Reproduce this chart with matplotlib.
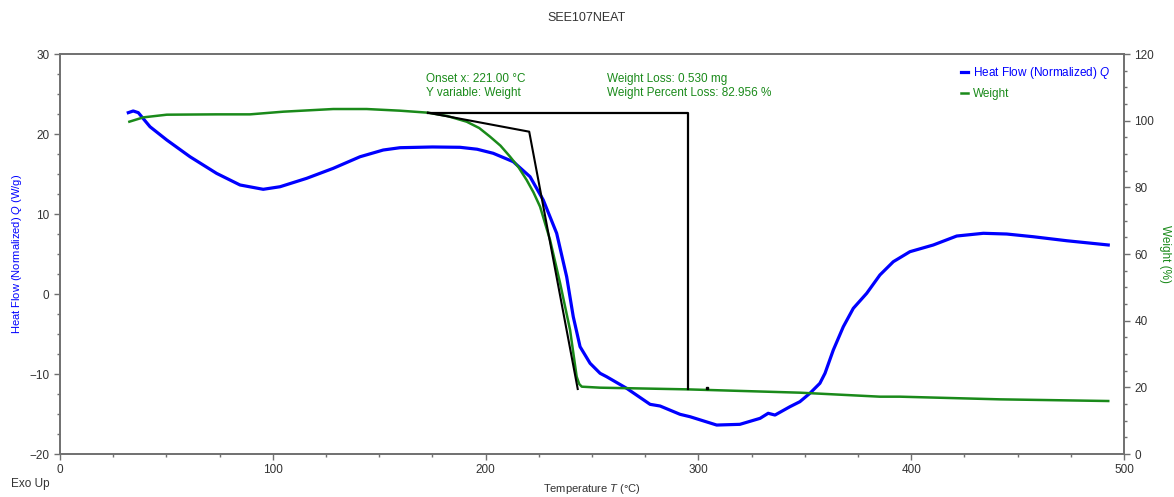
import matplotlib
matplotlib.use("Agg")
from matplotlib import pyplot as plt
from matplotlib.ticker import MultipleLocator

plt.rcParams['font.family'] = ['Liberation Sans', 'DejaVu Sans']
plt.rcParams['mathtext.fontset'] = 'custom'
plt.rcParams['mathtext.it'] = 'Liberation Sans:italic'

# heat flow (normalized), W/g
hf_temp = [32.1, 34.4, 36.8, 42.3, 50.2, 61.1, 73.6, 84.6, 95.5, 103.4, 115.9, 128.4,
           141.0, 151.9, 159.8, 175.0, 188.0, 196.0, 203.6, 213.0, 220.9, 227.1, 233.4,
           238.1, 241.2, 244.4, 249.1, 253.8, 256.9, 266.3, 277.3, 282.0, 291.4, 296.1,
           308.6, 319.5, 329.0, 332.8, 336.0, 343.0, 347.7, 352.4, 357.1, 359.5, 363.4,
           368.1, 372.8, 379.1, 385.3, 391.6, 399.4, 410.4, 421.4, 433.9, 444.9, 457.4,
           473.1, 492.6]
hf_value = [22.67, 22.88, 22.67, 20.91, 19.25, 17.16, 15.08, 13.63, 13.09, 13.41, 14.46,
            15.71, 17.16, 18.0, 18.29, 18.38, 18.34, 18.1, 17.59, 16.54, 14.66, 11.75,
            7.59, 2.16, -2.84, -6.59, -8.66, -9.91, -10.34, -11.79, -13.79, -14.0, -15.04,
            -15.34, -16.38, -16.29, -15.54, -14.91, -15.13, -14.09, -13.46, -12.41,
            -11.16, -9.91, -7.0, -4.09, -1.79, 0.09, 2.38, 4.04, 5.29, 6.13, 7.25, 7.59,
            7.5, 7.16, 6.66, 6.13]

# weight, %
w_temp = [32.6, 39.2, 50.2, 73.6, 89.3, 104.9, 128.4, 144.1, 159.8, 172.9, 182.0, 191.1,
          197.0, 202.1, 207.0, 211.5, 215.5, 219.3, 222.5, 225.6, 230.3, 235.0, 239.7,
          242.8, 244.0, 245.2, 253.8, 294.5, 347.7, 354.0, 385.3, 394.7, 441.7, 492.6]
w_value = [99.7, 101.0, 101.8, 101.9, 101.9, 102.7, 103.5, 103.5, 103.0, 102.4, 101.4,
           99.7, 97.8, 95.2, 92.5, 89.2, 86.0, 82.2, 78.5, 74.2, 64.2, 51.3, 37.2, 23.2,
           21.0, 20.2, 19.9, 19.4, 18.4, 18.2, 17.2, 17.2, 16.4, 15.9]

# onset / step analysis construction (weight axis)
onset_temp = [172.9, 220.5, 243.3]
onset_w = [102.4, 96.7, 19.5]
step_temp = [172.9, 295.1, 295.1]
step_w = [102.4, 102.4, 19.5]

BLUE = "#0000ff"
GREEN = "#1a8a1a"
GRAY = "#707070"

fig = plt.figure(figsize=(11.74, 4.97), dpi=100)
ax = fig.add_axes([0.0511, 0.0865, 0.9063, 0.8048])
ax2 = ax.twinx()

ax.plot(hf_temp, hf_value, color=BLUE, lw=2.3, label="Heat Flow (Normalized) $\\it{Q}$")
ax2.plot(w_temp, w_value, color=GREEN, lw=1.8, label="Weight")
ax2.plot(onset_temp, onset_w, color="black", lw=1.5)
ax2.plot(step_temp, step_w, color="black", lw=1.6)
ax2.plot([304], [19.8], marker="s", ms=1.5, color="black")

ax.set_xlim(0, 500)
ax.set_ylim(-20, 30)
ax2.set_ylim(0, 120)

ax.xaxis.set_major_locator(MultipleLocator(100))
ax.xaxis.set_minor_locator(MultipleLocator(25))
ax.yaxis.set_major_locator(MultipleLocator(10))
ax.yaxis.set_minor_locator(MultipleLocator(2.5))
ax2.yaxis.set_major_locator(MultipleLocator(20))
ax2.yaxis.set_minor_locator(MultipleLocator(5))

for a in (ax, ax2):
    for s in a.spines.values():
        s.set_color(GRAY)
        s.set_linewidth(1.2)
    a.tick_params(which="major", length=4, width=1, color=GRAY, labelsize=8.5, labelcolor="#333333")
    a.tick_params(which="minor", length=2.5, width=1, color=GRAY)

ax.set_xlabel("Temperature $\\it{T}$ (°C)", fontsize=8, color="#333333")
ax.set_ylabel("Heat Flow (Normalized) $\\it{Q}$ (W/g)", fontsize=8, color=BLUE)
ax2.set_ylabel("Weight (%)", fontsize=8.5, color=GREEN, rotation=270, labelpad=12)
fig.suptitle("SEE107NEAT", y=0.975, fontsize=9, color="#333333")
fig.text(0.009, 0.02, "Exo Up", fontsize=8.5, color="#333333")

ax2.text(172, 114.3, "Onset x: 221.00 °C\nY variable: Weight", fontsize=8.5, color=GREEN,
         va="top", linespacing=1.2)
ax2.text(257, 114.3, "Weight Loss: 0.530 mg\nWeight Percent Loss: 82.956 %", fontsize=8.5,
         color=GREEN, va="top", linespacing=1.2)

h1, l1 = ax.get_legend_handles_labels()
h2, l2 = ax2.get_legend_handles_labels()
leg = ax2.legend(h1 + h2, l1 + l2, loc="upper right", bbox_to_anchor=(0.997, 1.0),
                 frameon=False, fontsize=8.5, handlelength=0.6, handletextpad=0.4,
                 labelspacing=0.6, labelcolor=[BLUE, GREEN])

fig.savefig("out.png", dpi=100)
